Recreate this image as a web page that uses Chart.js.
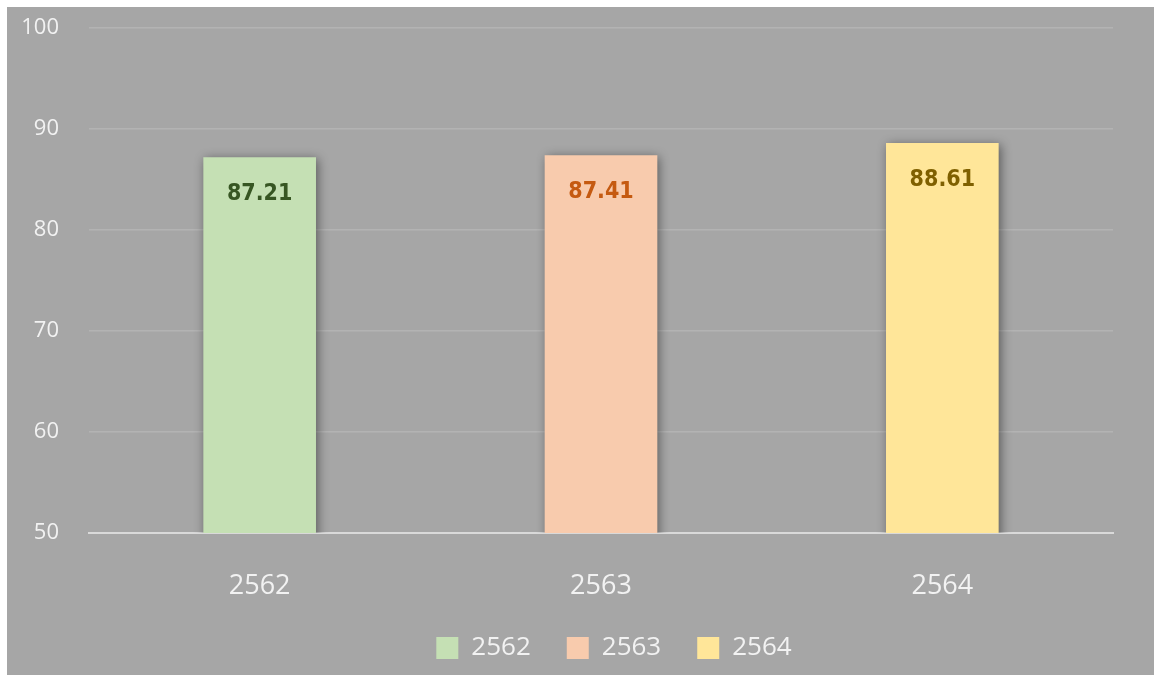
<!DOCTYPE html>
<html>
<head>
<meta charset="utf-8">
<script src="https://cdn.jsdelivr.net/npm/chart.js@4"></script>
<style>
  html, body { margin: 0; padding: 0; background: #ffffff; }
  #wrap { position: absolute; left: 7px; top: 7px; width: 1147px; height: 668px; background: #a6a6a6; }
</style>
</head>
<body>
<div id="wrap"><canvas id="chart" width="1147" height="668"></canvas></div>
<script>
const years = ['2562', '2563', '2564'];
const scores = [87.21, 87.41, 88.61];
const barColors = ['#c5e0b4', '#f8cbad', '#ffe699'];
const labelColors = ['#375623', '#c55a11', '#7f6000'];
const yTicks = [50, 60, 70, 80, 90, 100];

// each year is its own dataset so the legend shows all three colours
const datasets = years.map((y, i) => ({
  label: y,
  data: years.map((_, j) => (j === i ? scores[i] : null)),
  backgroundColor: barColors[i],
  borderWidth: 0,
}));

const shadowPlugin = {
  id: 'barShadow',
  beforeDatasetDraw(chart) {
    const ctx = chart.ctx;
    ctx.save();
    ctx.shadowColor = 'rgba(0, 0, 0, 0.45)';
    ctx.shadowBlur = 10;
    ctx.shadowOffsetX = 2;
    ctx.shadowOffsetY = 2;
  },
  afterDatasetDraw(chart) {
    chart.ctx.restore();
  },
};

const valueLabels = {
  id: 'valueLabels',
  afterDatasetsDraw(chart) {
    const ctx = chart.ctx;
    ctx.save();
    ctx.font = 'bold 23px "DejaVu Sans Condensed", "DejaVu Sans", sans-serif';
    ctx.textAlign = 'center';
    ctx.textBaseline = 'middle';
    chart.data.datasets.forEach((ds, i) => {
      const bar = chart.getDatasetMeta(i).data[i];
      ctx.fillStyle = labelColors[i];
      ctx.fillText(scores[i].toFixed(2), bar.x, bar.y + 37);
    });
    ctx.restore();
  },
};

// nudge the legend a little to the right, as in the original
const legendShift = {
  id: 'legendShift',
  afterLayout(chart) {
    chart.legend.left += 13;
    chart.legend.right += 13;
  },
};

new Chart(document.getElementById('chart'), {
  type: 'bar',
  data: { labels: years, datasets: datasets },
  plugins: [shadowPlugin, valueLabels, legendShift],
  options: {
    responsive: false,
    animation: false,
    layout: { padding: { top: 21, right: 41, left: 0, bottom: 4 } },
    datasets: {
      bar: { grouped: false, barPercentage: 0.33, categoryPercentage: 1 },
    },
    scales: {
      x: {
        afterFit: (scale) => { scale.height = 66; },
        grid: { display: false, drawTicks: false },
        border: { color: '#d9d9d9', width: 2 },
        ticks: {
          color: '#f2f2f2',
          font: { family: 'Open Sans', size: 27 },
          padding: 37,
        },
      },
      y: {
        min: 50,
        max: 100,
        afterFit: (scale) => {
          scale.width = 82;
          scale.paddingTop = 0;
          scale.paddingBottom = 0;
        },
        afterBuildTicks: (scale) => { scale.ticks = yTicks.map((v) => ({ value: v })); },
        border: { display: false },
        grid: { color: '#b3b3b3', lineWidth: 1.5, drawTicks: false },
        ticks: {
          color: '#f2f2f2',
          font: { family: 'Open Sans', size: 22 },
          padding: 30,
        },
      },
    },
    plugins: {
      tooltip: { enabled: false },
      legend: {
        position: 'bottom',
        fullSize: false,
        labels: {
          color: '#f2f2f2',
          font: { family: 'Open Sans', size: 26 },
          boxWidth: 22,
          boxHeight: 22,
          padding: 36,
        },
      },
    },
  },
});
</script>
</body>
</html>
